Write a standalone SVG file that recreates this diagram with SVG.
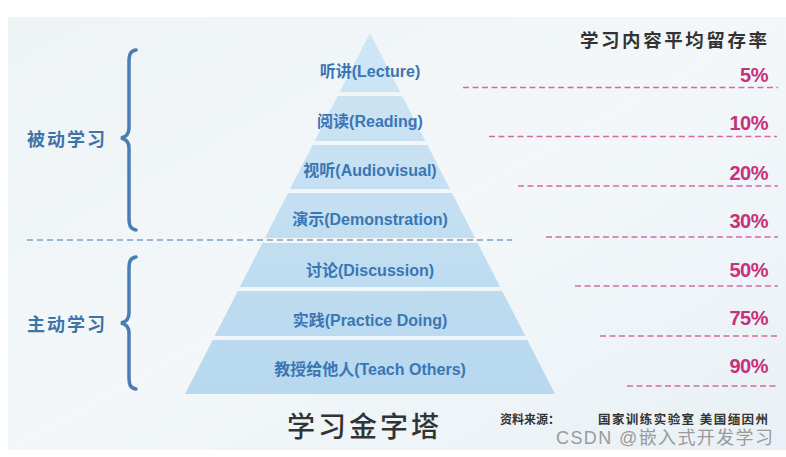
<svg xmlns="http://www.w3.org/2000/svg" width="786" height="457" viewBox="0 0 786 457">
  <defs>
    <linearGradient id="bg" x1="0" y1="0" x2="1" y2="1">
      <stop offset="0" stop-color="#eef3f5"/>
      <stop offset="0.5" stop-color="#f3f7f9"/>
      <stop offset="1" stop-color="#e9f1f6"/>
    </linearGradient>
    <linearGradient id="pyr" gradientUnits="userSpaceOnUse" x1="0" y1="33" x2="0" y2="394">
      <stop offset="0" stop-color="#cfe6f5"/>
      <stop offset="1" stop-color="#b7d8ee"/>
    </linearGradient>
    <style>
      .band { fill: url(#pyr); }
      .lbl { font-family: "Liberation Sans", "Noto Sans CJK SC", sans-serif; font-size: 16px; font-weight: bold; fill: #3a76b4; text-anchor: middle; }
      .grp { font-family: "Noto Sans CJK SC", sans-serif; font-size: 18px; font-weight: bold; fill: #3f74a8; letter-spacing: 2px; }
      .pct { font-family: "Liberation Sans", sans-serif; font-size: 20px; font-weight: bold; fill: #c7307c; text-anchor: end; letter-spacing: -0.5px; }
      .pdash { stroke: #d36aa6; stroke-width: 1.6; stroke-dasharray: 6 3.5; fill: none; }
      .brace { stroke: #4a7db1; stroke-width: 3.5; fill: none; stroke-linecap: round; }
      .dark { font-family: "Noto Sans CJK SC", sans-serif; fill: #333; }
    </style>
  </defs>

  <rect x="0" y="0" width="786" height="457" fill="#ffffff"/>
  <rect x="8" y="17" width="778" height="433" fill="url(#bg)"/>

  <g id="pyramid">
    <g id="layer-lecture">
      <polygon class="band" points="370,33 400.2,92 339.8,92"/>
      <text class="lbl" x="370" y="77">听讲(Lecture)</text>
    </g>
    <g id="layer-reading">
      <polygon class="band" points="337.7,96 402.3,96 425.4,141 314.6,141"/>
      <text class="lbl" x="370" y="127">阅读(Reading)</text>
    </g>
    <g id="layer-audiovisual">
      <polygon class="band" points="312.6,145 427.4,145 450,189 290,189"/>
      <text class="lbl" x="370" y="176">视听(Audiovisual)</text>
    </g>
    <g id="layer-demonstration">
      <polygon class="band" points="288,193 452,193 475.1,238 264.9,238"/>
      <text class="lbl" x="370" y="225">演示(Demonstration)</text>
    </g>
    <g id="layer-discussion">
      <polygon class="band" points="262.4,243 477.6,243 500.2,287 239.8,287"/>
      <text class="lbl" x="370" y="276">讨论(Discussion)</text>
    </g>
    <g id="layer-practice">
      <polygon class="band" points="237.8,291 502.2,291 525.3,336 214.7,336"/>
      <text class="lbl" x="370" y="326">实践(Practice Doing)</text>
    </g>
    <g id="layer-teach">
      <polygon class="band" points="212.7,340 527.3,340 555,394 185,394"/>
      <text class="lbl" x="370" y="375">教授给他人(Teach Others)</text>
    </g>
  </g>

  <g id="divider">
    <line x1="27" y1="240" x2="512" y2="240" stroke="#7f9fc0" stroke-width="1.5" stroke-dasharray="6 4"/>
  </g>

  <g id="passive">
    <path class="brace" d="M136,50 C130,51 129,55 129,62 L129,128 C129,134 126,137 121,138 C126,139 129,142 129,148 L129,218 C129,225 130,229 136,230"/>
    <text class="grp" x="27" y="146">被动学习</text>
  </g>
  <g id="active">
    <path class="brace" d="M136,257 C130,258 129,262 129,268 L129,313 C129,319 126,322 121,323 C126,324 129,327 129,333 L129,378 C129,384 130,388 136,389"/>
    <text class="grp" x="27" y="331">主动学习</text>
  </g>

  <g id="retention">
    <text class="dark" x="580" y="47" font-size="18.5" font-weight="bold" textLength="187">学习内容平均留存率</text>
    <text class="pct" x="768" y="82">5%</text>
    <text class="pct" x="768" y="130">10%</text>
    <text class="pct" x="768" y="180">20%</text>
    <text class="pct" x="768" y="228">30%</text>
    <text class="pct" x="768" y="277">50%</text>
    <text class="pct" x="768" y="325">75%</text>
    <text class="pct" x="768" y="373">90%</text>
  </g>

  <g id="connectors">
    <line class="pdash" x1="463" y1="87.5" x2="778" y2="87.5"/>
    <line class="pdash" x1="489" y1="136.5" x2="777" y2="136.5"/>
    <line class="pdash" x1="518" y1="186" x2="778" y2="186"/>
    <line class="pdash" x1="546" y1="237" x2="778" y2="237"/>
    <line class="pdash" x1="575" y1="286" x2="778" y2="286"/>
    <line class="pdash" x1="600" y1="336" x2="777" y2="336"/>
    <line class="pdash" x1="627" y1="386" x2="778" y2="386"/>
  </g>

  <g id="footer">
    <text class="dark" x="287" y="437" font-size="28" font-weight="500" letter-spacing="3">学习金字塔</text>
    <text class="dark" x="500" y="424" font-size="12" font-weight="bold">资料来源：</text>
    <text class="dark" x="598" y="424" font-size="12.5" font-weight="bold" textLength="170">国家训练实验室 美国缅因州</text>
    <text x="556" y="444" font-family="Liberation Sans, Noto Sans CJK SC, sans-serif" font-size="18" fill="#9a9a9a" textLength="217">CSDN @嵌入式开发学习</text>
  </g>
</svg>
